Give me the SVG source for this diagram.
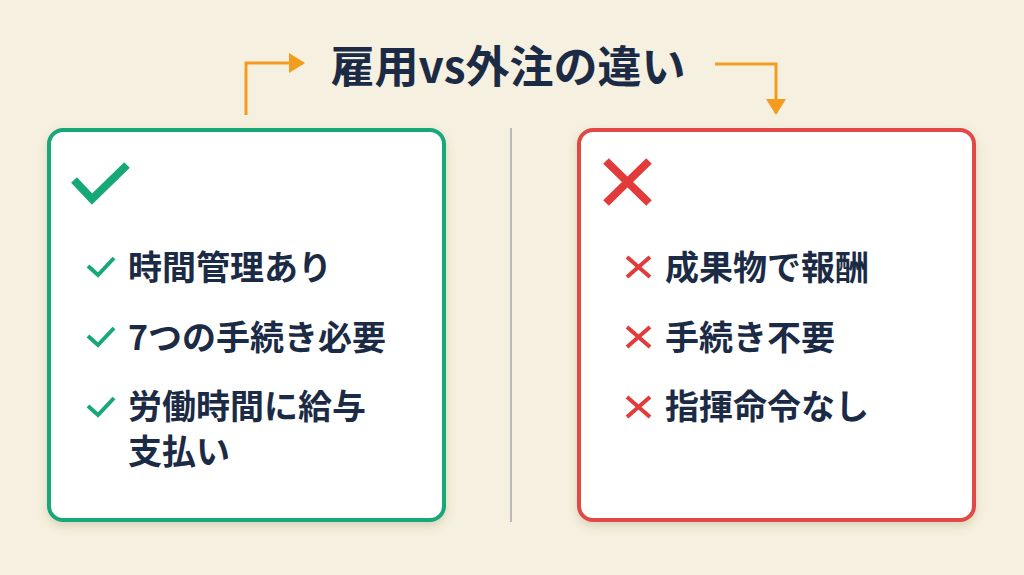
<svg xmlns="http://www.w3.org/2000/svg" width="1024" height="575" viewBox="0 0 1024 575">
  <defs>
    <filter id="shadow" x="-10%" y="-10%" width="120%" height="125%">
      <feDropShadow dx="0" dy="4" stdDeviation="4" flood-color="#8a7a50" flood-opacity="0.25"/>
    </filter>
    <marker id="arrow" viewBox="0 0 16 20" refX="14" refY="10" markerWidth="16" markerHeight="20" markerUnits="userSpaceOnUse" orient="auto">
      <path d="M0,0 L16,10 L0,20 Z" fill="#f39c1f"/>
    </marker>
    <style>
      .title { font-family: "Noto Sans CJK JP", "Noto Sans", sans-serif; font-weight: 700; font-size: 44px; fill: #1b2a45; }
      .item { font-family: "Noto Sans CJK JP", "Noto Sans", sans-serif; font-weight: 700; font-size: 34px; fill: #1c2b45; }
      .conn { fill: none; stroke: #f39c1f; stroke-width: 3; }
      .chk { fill: none; stroke: #17a878; stroke-linecap: butt; stroke-linejoin: miter; }
      .crs { fill: none; stroke: #e23b3b; stroke-linecap: butt; }
    </style>
  </defs>
  <rect width="1024" height="575" fill="#f5f0df"/>

  <g id="title">
    <text class="title" x="508" y="83" text-anchor="middle">雇用vs外注の違い</text>
  </g>

  <g id="connectors">
    <path class="conn" d="M246,115 V63 H303" marker-end="url(#arrow)"/>
    <path class="conn" d="M715,64 H776 V113" marker-end="url(#arrow)"/>
    <line x1="511" y1="128" x2="511" y2="522" stroke="#a8a8a8" stroke-width="1.5"/>
  </g>

  <g id="employment">
    <rect x="49" y="130" width="395" height="390" rx="14" fill="#ffffff" stroke="#17a878" stroke-width="4" filter="url(#shadow)"/>
    <path class="chk" d="M74,180 L92,199 L127,165" stroke-width="8"/>
    <path class="chk" d="M88,266 L98,275 L114,258" stroke-width="4"/>
    <text class="item" x="128" y="280">時間管理あり</text>
    <path class="chk" d="M88,336 L98,345 L114,328" stroke-width="4"/>
    <text class="item" x="128" y="350">7つの手続き必要</text>
    <path class="chk" d="M88,406 L98,415 L114,398" stroke-width="4"/>
    <text class="item" x="128" y="419">労働時間に給与</text>
    <text class="item" x="128" y="464">支払い</text>
  </g>

  <g id="outsourcing">
    <rect x="579" y="130" width="395" height="390" rx="14" fill="#ffffff" stroke="#e04a45" stroke-width="4" filter="url(#shadow)"/>
    <path class="crs" d="M606,161 L649,203 M649,161 L606,203" stroke-width="8"/>
    <path class="crs" d="M627,257 L650,277 M650,257 L627,277" stroke-width="4"/>
    <text class="item" x="665" y="280">成果物で報酬</text>
    <path class="crs" d="M627,327 L650,347 M650,327 L627,347" stroke-width="4"/>
    <text class="item" x="665" y="350">手続き不要</text>
    <path class="crs" d="M627,397 L650,417 M650,397 L627,417" stroke-width="4"/>
    <text class="item" x="665" y="419">指揮命令なし</text>
  </g>
</svg>
